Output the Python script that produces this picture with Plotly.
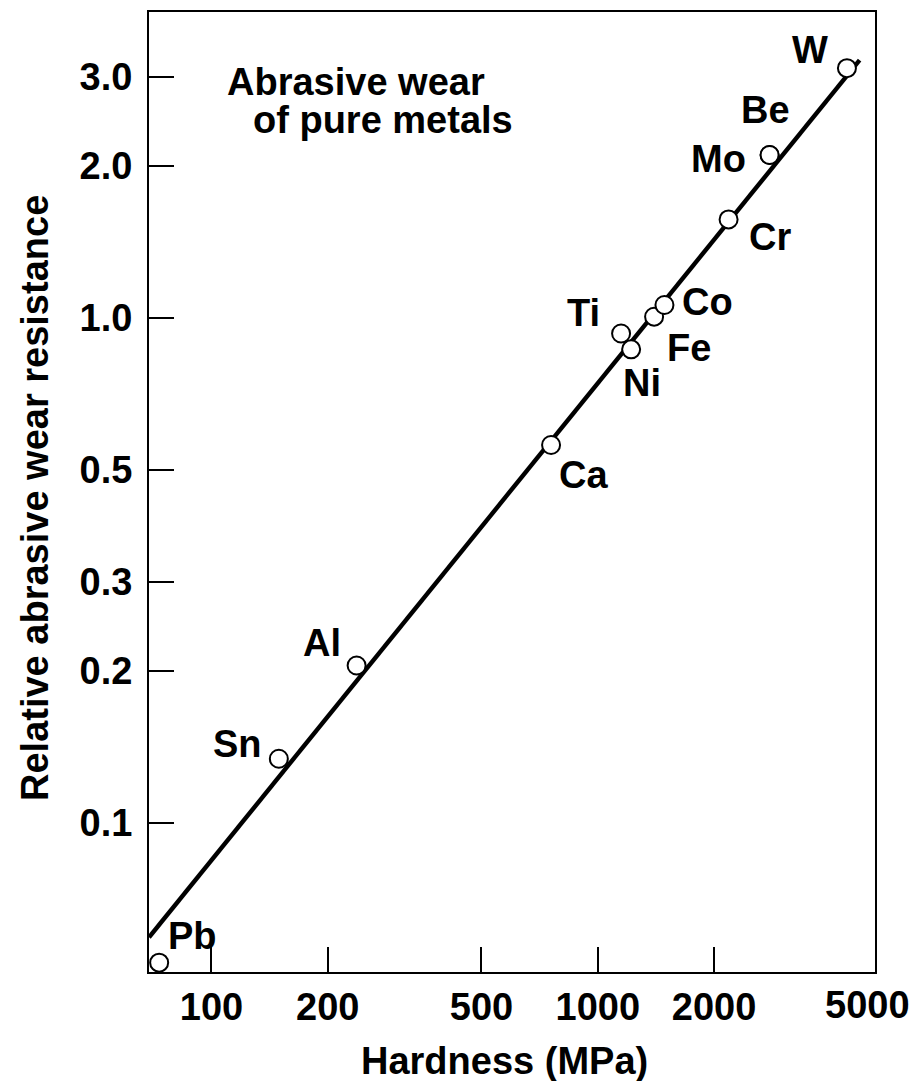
import numpy as np
import plotly.graph_objects as go

# ---- data ----
metals = ["Pb", "Sn", "Al", "Ca", "Ti", "Ni", "Fe", "Co", "Cr", "Mo", "Be", "W"]
hardness = [73.2, 149.4, 237.5, 757, 1149, 1220, 1399, 1488, 2181, 2785, 2785, 4416]
resistance = [0.0529, 0.134, 0.205, 0.560, 0.931, 0.866, 1.005, 1.06, 1.566, 2.10, 2.10, 3.12]

fit_hardness = [68.9, 4762]
fit_resistance = [0.0594, 3.237]

x_ticks = [100, 200, 500, 1000, 2000]
x_tick_text = ["100", "200", "500", "1000", "2000"]
x_extra_label = 5000
y_ticks = [0.1, 0.2, 0.3, 0.5, 1.0, 2.0, 3.0]
y_tick_text = ["0.1", "0.2", "0.3", "0.5", "1.0", "2.0", "3.0"]

x_range = [68.9, 5220]
y_range = [0.0507, 4.03]

x_title = "Hardness (MPa)"
y_title = "Relative abrasive wear resistance"
note_lines = ["Abrasive wear", "of pure metals"]

# ---- style ----
FONT = "Liberation Sans, Arial, Helvetica, sans-serif"
FS = 38
font = dict(family=FONT, size=FS, color="black", weight="bold")
label_offsets = {  # pixel offsets of element labels from their markers (dx, dy up)
    "Pb": (33, 27), "Sn": (-41, 15), "Al": (-35, 22), "Ca": (32, -30),
    "Ti": (-38, 20), "Ni": (11, -34), "Fe": (35, -31), "Co": (43, 3),
    "Cr": (41, -18), "Mo": (-51, -4), "Be": (-4, 45), "W": (-37, 18),
}

fig = go.Figure()
fig.add_trace(go.Scatter(
    x=fit_hardness, y=fit_resistance, mode="lines",
    line=dict(color="black", width=4.4), hoverinfo="skip", showlegend=False))
fig.add_trace(go.Scatter(
    x=hardness, y=resistance, mode="markers", text=metals,
    marker=dict(symbol="circle", size=18, color="white",
                line=dict(color="black", width=2)),
    showlegend=False))

annotations = []
for m, hx, ry in zip(metals, hardness, resistance):
    dx, dy = label_offsets[m]
    annotations.append(dict(
        x=np.log10(hx), y=np.log10(ry), xref="x", yref="y", text=m,
        showarrow=False, xshift=dx, yshift=dy, font=font))

annotations.append(dict(
    x=np.log10(x_extra_label), y=0, xref="x", yref="paper", text="5000",
    showarrow=False, yanchor="middle", yshift=-33, font=font))

annotations.append(dict(
    x=0.104, y=0.927, xref="paper", yref="paper", text=note_lines[0],
    showarrow=False, xanchor="left", yanchor="middle", font=font))
annotations.append(dict(
    x=0.141, y=0.888, xref="paper", yref="paper", text=note_lines[1],
    showarrow=False, xanchor="left", yanchor="middle", font=font))

# axis titles
annotations.append(dict(
    x=0.5, y=0, xref="paper", yref="paper", text=x_title,
    showarrow=False, yanchor="middle", xshift=-8, yshift=-89, font=font))
annotations.append(dict(
    x=0, y=0.5, xref="paper", yref="paper", text=y_title, textangle=-90,
    showarrow=False, xanchor="center", yanchor="middle", xshift=-114, yshift=-6,
    font=font))

axis_common = dict(
    showline=True, linecolor="black", linewidth=2, mirror=True,
    ticks="inside", ticklen=25, tickwidth=2, tickcolor="black",
    showgrid=False, zeroline=False, automargin=False,
    tickfont=font,
)

# the page body has an 8 px margin, so the figure is offset by 8 px
fig.update_layout(
    width=912, height=1073,
    margin=dict(l=141, r=45, t=4, b=109),
    paper_bgcolor="white", plot_bgcolor="white",
    xaxis=dict(type="log", range=[np.log10(x_range[0]), np.log10(x_range[1])],
               tickvals=x_ticks, ticktext=x_tick_text, ticklabelstandoff=0,
               **axis_common),
    yaxis=dict(type="log", range=[np.log10(y_range[0]), np.log10(y_range[1])],
               tickvals=y_ticks, ticktext=y_tick_text, ticklabelstandoff=7,
               **axis_common),
    annotations=annotations,
)

fig.write_html("out.html")
